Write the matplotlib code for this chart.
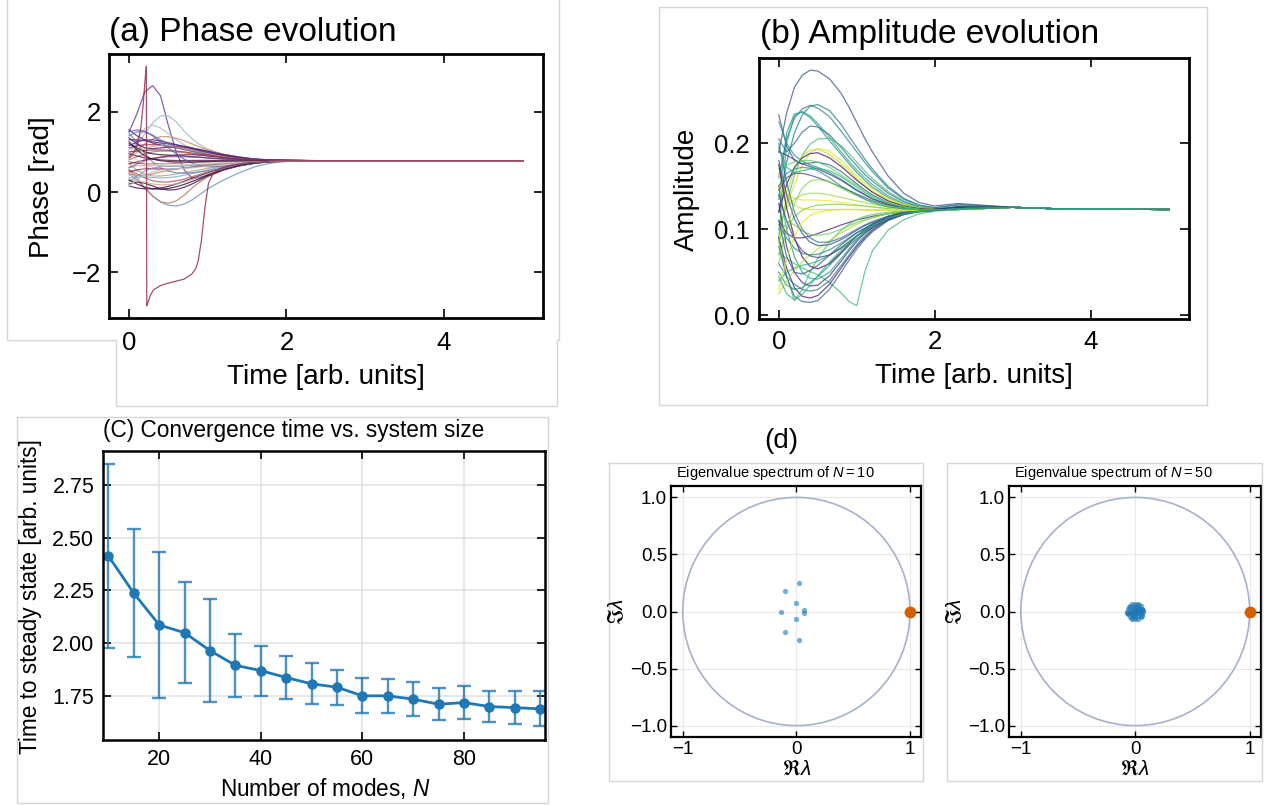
import numpy as np
import matplotlib
matplotlib.use("Agg")
import matplotlib.pyplot as plt
from matplotlib.patches import Circle
from matplotlib.lines import Line2D

plt.rcParams['font.family'] = ['Liberation Sans', 'DejaVu Sans']
plt.rcParams['mathtext.fontset'] = 'custom'
plt.rcParams['mathtext.rm'] = 'Liberation Sans'
plt.rcParams['mathtext.it'] = 'Liberation Sans:italic'
plt.rcParams['mathtext.bf'] = 'Liberation Sans:bold'
plt.rcParams['mathtext.fallback'] = 'stixsans'

# ---------------- data: (a) phase evolution ----------------
PHASE_T = [0.0, 0.1, 0.2, 0.3, 0.4, 0.5, 0.6, 0.7, 0.8, 0.9, 1.0, 1.2, 1.4, 1.6, 1.8, 2.0]
PHASE_TAIL_T = [2.5, 5.0]
PHASE_TAIL = [0.78, 0.78]
PHASE_CURVES = [
    [1.50, 1.95, 2.50, 2.65, 2.40, 1.65, 1.00, 0.55, 0.35, 0.36, 0.43, 0.57, 0.66, 0.72, 0.76, 0.775],
    [1.05, 1.20, 1.45, 1.72, 1.90, 1.90, 1.75, 1.52, 1.33, 1.18, 1.07, 0.93, 0.85, 0.81, 0.79, 0.785],
    [0.90, 1.30, 1.58, 1.67, 1.60, 1.45, 1.30, 1.18, 1.08, 1.00, 0.95, 0.87, 0.82, 0.80, 0.79, 0.785],
    [0.45, 0.30, 0.10, -0.10, -0.25, -0.33, -0.35, -0.30, -0.20, -0.06, 0.08, 0.30, 0.48, 0.63, 0.72, 0.76],
    [0.55, 0.35, 0.10, -0.10, -0.24, -0.28, -0.22, -0.08, 0.10, 0.25, 0.38, 0.55, 0.66, 0.72, 0.76, 0.775],
    [0.15, 0.10, 0.08, 0.08, 0.10, 0.14, 0.20, 0.27, 0.34, 0.41, 0.48, 0.60, 0.68, 0.73, 0.76, 0.775],
    [0.20, 0.25, 0.22, 0.15, 0.08, 0.05, 0.06, 0.12, 0.20, 0.30, 0.40, 0.55, 0.65, 0.72, 0.76, 0.775],
    [0.30, 0.28, 0.24, 0.20, 0.18, 0.18, 0.20, 0.25, 0.31, 0.38, 0.45, 0.57, 0.66, 0.72, 0.75, 0.77],
    [0.55, 0.45, 0.35, 0.28, 0.25, 0.25, 0.28, 0.32, 0.38, 0.44, 0.50, 0.60, 0.68, 0.73, 0.76, 0.775],
    [0.35, 0.38, 0.38, 0.36, 0.35, 0.36, 0.38, 0.42, 0.46, 0.50, 0.55, 0.63, 0.69, 0.73, 0.76, 0.775],
    [0.70, 0.55, 0.45, 0.40, 0.40, 0.42, 0.45, 0.48, 0.52, 0.55, 0.59, 0.65, 0.70, 0.74, 0.76, 0.775],
    [1.45, 1.25, 0.95, 0.75, 0.60, 0.52, 0.48, 0.47, 0.48, 0.50, 0.53, 0.60, 0.67, 0.72, 0.75, 0.77],
    [0.50, 0.55, 0.58, 0.58, 0.57, 0.57, 0.58, 0.60, 0.62, 0.64, 0.66, 0.70, 0.73, 0.755, 0.77, 0.778],
    [0.62, 0.65, 0.66, 0.66, 0.66, 0.66, 0.665, 0.67, 0.68, 0.69, 0.70, 0.72, 0.745, 0.76, 0.772, 0.778],
    [1.30, 1.30, 1.28, 1.25, 1.22, 1.20, 1.17, 1.14, 1.10, 1.06, 1.02, 0.94, 0.87, 0.82, 0.80, 0.79],
    [0.90, 1.05, 1.20, 1.32, 1.38, 1.38, 1.34, 1.28, 1.20, 1.12, 1.05, 0.94, 0.87, 0.82, 0.80, 0.79],
    [1.10, 1.15, 1.18, 1.18, 1.17, 1.15, 1.12, 1.09, 1.05, 1.01, 0.97, 0.90, 0.85, 0.81, 0.79, 0.785],
    [1.55, 1.40, 1.30, 1.22, 1.17, 1.13, 1.10, 1.06, 1.02, 0.98, 0.95, 0.88, 0.84, 0.81, 0.79, 0.785],
    [1.40, 1.50, 1.50, 1.42, 1.30, 1.20, 1.12, 1.06, 1.01, 0.97, 0.93, 0.87, 0.83, 0.81, 0.79, 0.785],
    [1.00, 1.02, 1.04, 1.05, 1.05, 1.04, 1.02, 1.00, 0.97, 0.94, 0.92, 0.87, 0.83, 0.80, 0.79, 0.785],
    [0.80, 0.88, 0.95, 1.00, 1.02, 1.02, 1.00, 0.98, 0.95, 0.92, 0.90, 0.86, 0.82, 0.80, 0.79, 0.785],
    [1.20, 1.10, 1.00, 0.95, 0.93, 0.92, 0.91, 0.90, 0.88, 0.87, 0.85, 0.83, 0.81, 0.80, 0.79, 0.785],
    [0.60, 0.70, 0.78, 0.83, 0.86, 0.88, 0.88, 0.88, 0.87, 0.86, 0.85, 0.82, 0.80, 0.79, 0.785, 0.78],
    [0.95, 0.90, 0.85, 0.82, 0.80, 0.79, 0.785, 0.785, 0.786, 0.787, 0.788, 0.787, 0.785, 0.783, 0.781, 0.78],
    [0.75, 0.72, 0.70, 0.70, 0.70, 0.71, 0.72, 0.73, 0.74, 0.75, 0.755, 0.765, 0.772, 0.776, 0.778, 0.78],
    [0.40, 0.50, 0.60, 0.66, 0.70, 0.72, 0.73, 0.74, 0.745, 0.75, 0.755, 0.763, 0.77, 0.775, 0.778, 0.78],
    [1.35, 1.20, 1.10, 1.08, 1.10, 1.12, 1.13, 1.12, 1.09, 1.05, 1.01, 0.93, 0.87, 0.82, 0.80, 0.79],
    [0.25, 0.40, 0.52, 0.60, 0.63, 0.64, 0.64, 0.65, 0.66, 0.67, 0.69, 0.72, 0.75, 0.765, 0.775, 0.78],
    [0.85, 0.98, 1.08, 1.14, 1.16, 1.15, 1.12, 1.08, 1.04, 1.00, 0.96, 0.89, 0.84, 0.81, 0.79, 0.785],
    [1.50, 1.55, 1.52, 1.40, 1.25, 1.10, 0.95, 0.82, 0.72, 0.66, 0.63, 0.64, 0.69, 0.73, 0.76, 0.775],
    [0.30, 0.20, 0.12, 0.08, 0.07, 0.09, 0.13, 0.19, 0.26, 0.34, 0.42, 0.56, 0.66, 0.72, 0.755, 0.77],
    [0.70, 0.75, 0.80, 0.84, 0.87, 0.90, 0.92, 0.93, 0.93, 0.92, 0.90, 0.86, 0.82, 0.80, 0.79, 0.785],
    [1.15, 1.25, 1.30, 1.30, 1.27, 1.23, 1.18, 1.13, 1.08, 1.03, 0.99, 0.91, 0.85, 0.815, 0.795, 0.787],
    [0.45, 0.42, 0.42, 0.45, 0.50, 0.54, 0.57, 0.60, 0.62, 0.64, 0.66, 0.70, 0.73, 0.755, 0.77, 0.775],
    [0.90, 0.80, 0.72, 0.68, 0.66, 0.66, 0.67, 0.68, 0.69, 0.70, 0.71, 0.73, 0.75, 0.765, 0.775, 0.78],
    [1.25, 1.05, 0.90, 0.82, 0.78, 0.76, 0.75, 0.75, 0.75, 0.755, 0.76, 0.77, 0.775, 0.778, 0.78, 0.78],
    [0.15, 0.30, 0.42, 0.50, 0.55, 0.57, 0.58, 0.59, 0.60, 0.62, 0.64, 0.68, 0.72, 0.745, 0.765, 0.775],
]
# the one mode whose phase wraps through +pi
PHASE_WRAP_T = [0.0, 0.05, 0.1, 0.15, 0.18, 0.21, 0.22, 0.225, 0.24, 0.27, 0.31, 0.4, 0.5, 0.6, 0.7,
                0.8, 0.85, 0.88, 0.92, 0.965, 1.01, 1.07, 1.15, 1.3, 1.5, 1.8, 2.0, 2.5, 5.0]
PHASE_WRAP = [0.85, 0.95, 1.15, 1.6, 2.2, 2.95, 3.14, -2.84, -2.75, -2.58, -2.44, -2.33, -2.27, -2.22, -2.17,
              -2.04, -1.9, -1.7, -1.2, -0.37, 0.22, 0.47, 0.58, 0.67, 0.73, 0.77, 0.78, 0.78, 0.78]

# ---------------- data: (b) amplitude evolution ----------------
AMP_T = [0.0, 0.1, 0.2, 0.3, 0.4, 0.5, 0.65, 0.8, 0.9, 1.0, 1.1, 1.2, 1.4, 1.6, 1.8, 2.0, 2.3]
AMP_TAIL_T = [3.0, 3.5, 4.0, 5.0]
AMP_TAIL = [0.1255, 0.124, 0.1235, 0.123]
AMP_CURVES = [
    [0.190, 0.235, 0.265, 0.279, 0.285, 0.284, 0.275, 0.258, 0.242, 0.224, 0.206, 0.190, 0.162, 0.142, 0.131, 0.127, 0.130],
    [0.120, 0.178, 0.212, 0.233, 0.243, 0.245, 0.238, 0.222, 0.208, 0.195, 0.182, 0.170, 0.150, 0.136, 0.128, 0.125, 0.129],
    [0.160, 0.205, 0.229, 0.240, 0.244, 0.241, 0.231, 0.214, 0.202, 0.190, 0.178, 0.167, 0.148, 0.135, 0.128, 0.125, 0.128],
    [0.090, 0.200, 0.232, 0.237, 0.232, 0.223, 0.207, 0.190, 0.179, 0.169, 0.160, 0.152, 0.139, 0.130, 0.125, 0.123, 0.126],
    [0.135, 0.212, 0.234, 0.236, 0.230, 0.220, 0.203, 0.187, 0.176, 0.166, 0.157, 0.149, 0.137, 0.129, 0.125, 0.123, 0.125],
    [0.205, 0.190, 0.200, 0.213, 0.220, 0.219, 0.210, 0.195, 0.184, 0.174, 0.164, 0.156, 0.142, 0.132, 0.126, 0.124, 0.126],
    [0.100, 0.130, 0.163, 0.186, 0.199, 0.205, 0.206, 0.197, 0.188, 0.178, 0.168, 0.159, 0.144, 0.133, 0.127, 0.124, 0.126],
    [0.152, 0.128, 0.152, 0.175, 0.189, 0.194, 0.191, 0.180, 0.171, 0.162, 0.154, 0.147, 0.136, 0.129, 0.125, 0.123, 0.124],
    [0.080, 0.142, 0.170, 0.185, 0.192, 0.193, 0.187, 0.176, 0.168, 0.159, 0.151, 0.144, 0.134, 0.128, 0.124, 0.123, 0.124],
    [0.120, 0.152, 0.172, 0.183, 0.188, 0.189, 0.183, 0.173, 0.165, 0.157, 0.150, 0.143, 0.133, 0.127, 0.124, 0.123, 0.125],
    [0.233, 0.197, 0.180, 0.176, 0.177, 0.178, 0.175, 0.167, 0.160, 0.153, 0.146, 0.140, 0.131, 0.126, 0.123, 0.122, 0.124],
    [0.225, 0.200, 0.186, 0.179, 0.175, 0.172, 0.166, 0.158, 0.152, 0.146, 0.141, 0.136, 0.129, 0.125, 0.123, 0.122, 0.124],
    [0.190, 0.186, 0.181, 0.176, 0.173, 0.170, 0.164, 0.157, 0.151, 0.145, 0.140, 0.135, 0.129, 0.125, 0.123, 0.122, 0.124],
    [0.195, 0.172, 0.166, 0.168, 0.170, 0.171, 0.168, 0.161, 0.155, 0.149, 0.143, 0.138, 0.130, 0.126, 0.123, 0.122, 0.124],
    [0.170, 0.175, 0.178, 0.180, 0.180, 0.178, 0.172, 0.163, 0.157, 0.151, 0.145, 0.139, 0.131, 0.126, 0.123, 0.122, 0.124],
    [0.145, 0.160, 0.165, 0.165, 0.163, 0.160, 0.155, 0.149, 0.145, 0.141, 0.137, 0.133, 0.128, 0.124, 0.123, 0.122, 0.123],
    [0.152, 0.141, 0.136, 0.134, 0.134, 0.134, 0.133, 0.131, 0.130, 0.128, 0.127, 0.126, 0.124, 0.123, 0.122, 0.122, 0.123],
    [0.165, 0.140, 0.128, 0.124, 0.123, 0.123, 0.123, 0.123, 0.123, 0.123, 0.122, 0.122, 0.122, 0.122, 0.122, 0.122, 0.123],
    [0.100, 0.125, 0.135, 0.140, 0.142, 0.142, 0.140, 0.137, 0.135, 0.133, 0.131, 0.129, 0.126, 0.124, 0.123, 0.122, 0.123],
    [0.070, 0.100, 0.115, 0.122, 0.126, 0.128, 0.129, 0.129, 0.128, 0.128, 0.127, 0.126, 0.124, 0.123, 0.122, 0.122, 0.123],
    [0.072, 0.066, 0.060, 0.055, 0.051, 0.047, 0.038, 0.026, 0.016, 0.011, 0.050, 0.075, 0.099, 0.111, 0.118, 0.121, 0.123],
    [0.110, 0.095, 0.090, 0.090, 0.092, 0.095, 0.100, 0.105, 0.108, 0.111, 0.113, 0.115, 0.118, 0.120, 0.121, 0.122, 0.123],
    [0.050, 0.035, 0.030, 0.032, 0.038, 0.045, 0.058, 0.072, 0.081, 0.089, 0.096, 0.102, 0.111, 0.117, 0.120, 0.122, 0.124],
    [0.090, 0.045, 0.017, 0.030, 0.050, 0.066, 0.085, 0.099, 0.106, 0.111, 0.115, 0.117, 0.120, 0.121, 0.122, 0.122, 0.123],
    [0.080, 0.045, 0.022, 0.016, 0.015, 0.017, 0.030, 0.050, 0.064, 0.077, 0.088, 0.097, 0.110, 0.117, 0.121, 0.123, 0.126],
    [0.090, 0.055, 0.032, 0.022, 0.020, 0.023, 0.036, 0.055, 0.068, 0.080, 0.090, 0.099, 0.111, 0.118, 0.121, 0.123, 0.126],
    [0.060, 0.045, 0.036, 0.030, 0.028, 0.030, 0.040, 0.058, 0.070, 0.082, 0.092, 0.100, 0.112, 0.118, 0.121, 0.123, 0.125],
    [0.130, 0.080, 0.050, 0.038, 0.034, 0.035, 0.046, 0.063, 0.075, 0.086, 0.095, 0.102, 0.113, 0.119, 0.122, 0.123, 0.125],
    [0.150, 0.100, 0.068, 0.050, 0.043, 0.042, 0.050, 0.066, 0.077, 0.088, 0.097, 0.104, 0.114, 0.119, 0.122, 0.123, 0.125],
    [0.175, 0.125, 0.090, 0.068, 0.057, 0.054, 0.060, 0.073, 0.083, 0.092, 0.100, 0.106, 0.115, 0.120, 0.122, 0.123, 0.125],
    [0.040, 0.050, 0.055, 0.058, 0.060, 0.063, 0.070, 0.079, 0.086, 0.093, 0.099, 0.105, 0.114, 0.119, 0.121, 0.122, 0.124],
    [0.025, 0.040, 0.052, 0.062, 0.070, 0.077, 0.087, 0.096, 0.101, 0.106, 0.110, 0.113, 0.118, 0.121, 0.122, 0.122, 0.123],
    [0.140, 0.110, 0.088, 0.075, 0.069, 0.067, 0.070, 0.078, 0.085, 0.092, 0.098, 0.104, 0.113, 0.118, 0.121, 0.122, 0.124],
    [0.105, 0.090, 0.078, 0.072, 0.070, 0.071, 0.076, 0.084, 0.090, 0.096, 0.101, 0.106, 0.114, 0.119, 0.121, 0.122, 0.124],
    [0.085, 0.110, 0.105, 0.098, 0.094, 0.093, 0.095, 0.100, 0.104, 0.108, 0.111, 0.114, 0.118, 0.121, 0.122, 0.122, 0.123],
    [0.180, 0.140, 0.112, 0.095, 0.085, 0.081, 0.082, 0.088, 0.093, 0.099, 0.104, 0.108, 0.115, 0.119, 0.121, 0.122, 0.124],
    [0.200, 0.155, 0.120, 0.100, 0.090, 0.085, 0.085, 0.090, 0.095, 0.100, 0.105, 0.109, 0.115, 0.119, 0.121, 0.122, 0.124],
    [0.030, 0.065, 0.092, 0.108, 0.116, 0.120, 0.122, 0.123, 0.123, 0.123, 0.123, 0.123, 0.123, 0.122, 0.122, 0.122, 0.123],
    [0.060, 0.100, 0.130, 0.148, 0.156, 0.158, 0.155, 0.148, 0.143, 0.139, 0.135, 0.132, 0.127, 0.124, 0.123, 0.122, 0.123],
    [0.110, 0.068, 0.050, 0.048, 0.052, 0.058, 0.070, 0.082, 0.089, 0.096, 0.101, 0.106, 0.114, 0.119, 0.121, 0.122, 0.124],
    [0.045, 0.025, 0.018, 0.024, 0.035, 0.046, 0.062, 0.076, 0.085, 0.092, 0.099, 0.104, 0.113, 0.118, 0.121, 0.122, 0.124],
    [0.150, 0.165, 0.170, 0.172, 0.171, 0.168, 0.160, 0.150, 0.145, 0.140, 0.135, 0.131, 0.126, 0.124, 0.123, 0.122, 0.123],
]

# ---------------- data: (c) convergence time ----------------
MODES_N = [10, 15, 20, 25, 30, 35, 40, 45, 50, 55, 60, 65, 70, 75, 80, 85, 90, 95]
CONV_TIME = [2.414, 2.237, 2.086, 2.049, 1.964, 1.894, 1.869, 1.836, 1.806, 1.790, 1.749, 1.749,
             1.733, 1.709, 1.717, 1.698, 1.693, 1.687]
CONV_ERR = [0.437, 0.305, 0.345, 0.239, 0.243, 0.149, 0.119, 0.103, 0.098, 0.084, 0.084, 0.081,
            0.082, 0.077, 0.079, 0.075, 0.079, 0.083]

# ---------------- data: (d) eigenvalue spectra ----------------
EIG10_RE = [0.027, -0.098, 0.0, -0.136, 0.071, 0.071, 0.0, -0.098, 0.027]
EIG10_IM = [0.246, 0.181, 0.076, 0.0, 0.011, -0.011, -0.070, -0.181, -0.246]
EIG50_RE = [0.068, 0.063, 0.048, 0.026, 0.0, -0.026, -0.048, -0.063, -0.068, -0.063, -0.048, -0.026, 0.0, 0.026, 0.048, 0.063,
            0.045, 0.039, 0.022, 0.0, -0.022, -0.039, -0.045, -0.039, -0.022, 0.0, 0.022, 0.039,
            0.022, 0.016, 0.0, -0.016, -0.022, -0.016, 0.0, 0.016,
            0.008, -0.006, 0.055, -0.052, 0.031, -0.030, 0.012, -0.012, 0.058, -0.056, 0.004, 0.070, -0.070]
EIG50_IM = [0.0, 0.026, 0.048, 0.063, 0.068, 0.063, 0.048, 0.026, 0.0, -0.026, -0.048, -0.063, -0.068, -0.063, -0.048, -0.026,
            0.0, 0.022, 0.039, 0.045, 0.039, 0.022, 0.0, -0.022, -0.039, -0.045, -0.039, -0.022,
            0.0, 0.016, 0.022, 0.016, 0.0, -0.016, -0.022, -0.016,
            0.005, -0.004, 0.012, -0.014, 0.055, -0.055, 0.032, -0.032, -0.036, 0.036, 0.0, 0.012, -0.012]
LEADING_RE = [1.0]
LEADING_IM = [0.0]

# ---------------- styles ----------------
PHASE_CPOS = [0.35, 0.12, 0.10, 0.20, 0.80, 0.45, 0.55, 0.88, 0.75, 0.15, 0.85, 0.22, 0.62, 0.90, 0.60,
              0.83, 0.70, 0.40, 0.25, 0.65, 0.78, 0.50, 0.30, 0.58, 0.72, 0.92, 0.42, 0.18, 0.87, 0.28,
              0.48, 0.66, 0.38, 0.82, 0.95, 0.52, 0.08]
WRAP_CPOS = 0.68
AMP_CPOS = [0.25, 0.40, 0.45, 0.60, 0.50, 0.35, 0.70, 0.95, 0.90, 0.05, 0.30, 0.55, 0.15, 0.65, 0.75,
            0.20, 0.98, 0.92, 0.85, 0.80, 0.68, 0.10, 0.50, 0.72, 0.30, 0.08, 0.40, 0.12, 0.58, 0.02,
            0.62, 0.88, 0.18, 0.45, 0.78, 0.22, 0.38, 0.96, 0.82, 0.28, 0.64, 0.52]

W, H = 1270, 805
fig = plt.figure(figsize=(W / 100, H / 100), dpi=100)


def fx(x):
    return x / W


def fy(y):
    return 1 - y / H


def ax_px(x0, y0, x1, y1):
    return fig.add_axes([x0 / W, 1 - y1 / H, (x1 - x0) / W, (y1 - y0) / H])


def frame(points):
    fig.add_artist(Line2D([fx(p[0]) for p in points], [fy(p[1]) for p in points],
                          color='#d6d6d6', lw=1.0, transform=fig.transFigure))


def style(ax, fs, length, width, spine_w, xpad, ypad):
    ax.tick_params(direction='in', top=True, right=True, length=length, width=width,
                   labelsize=fs, color='black')
    ax.tick_params(axis='x', pad=xpad)
    ax.tick_params(axis='y', pad=ypad)
    for s in ax.spines.values():
        s.set_linewidth(spine_w)


# panel frames
frame([(7, 0), (7, 340), (116, 340), (116, 406), (557, 406), (557, 340), (559, 340), (559, 0)])
frame([(659, 7), (659, 405), (1207, 405), (1207, 7), (659, 7)])
frame([(17, 417), (17, 803), (548, 803), (548, 417), (17, 417)])
frame([(609, 463), (609, 781), (923, 781), (923, 463), (609, 463)])
frame([(947, 463), (947, 781), (1262, 781), (1262, 463), (947, 463)])

# ---------------- (a) ----------------
axA = ax_px(108.6, 54, 543, 318)
twi = plt.get_cmap('twilight')
for vals, c in zip(PHASE_CURVES, PHASE_CPOS):
    axA.plot(PHASE_T + PHASE_TAIL_T, vals + PHASE_TAIL, color=twi(c), lw=0.9, alpha=0.8)
axA.plot(PHASE_WRAP_T, PHASE_WRAP, color=twi(WRAP_CPOS), lw=0.9, alpha=0.85)
axA.set_xlim(-0.26, 5.26)
axA.set_ylim(-3.14, 3.44)
axA.set_xticks([0, 2, 4])
axA.set_yticks([-2, 0, 2])
style(axA, 18.5, 6.5, 1.2, 2.0, 9.0, 5.5)
fig.text(fx(108.6), fy(40.7), '(a) Phase evolution', fontsize=24, ha='left', va='baseline')
fig.text(fx(42), fy(187), 'Phase [rad]', fontsize=20, rotation=90, ha='center', va='center')
fig.text(fx(326), fy(376.5), 'Time [arb. units]', fontsize=20, ha='center', va='center')

# ---------------- (b) ----------------
axB = ax_px(758.5, 57.7, 1189.2, 319.3)
vir = plt.get_cmap('viridis')
for vals, c in zip(AMP_CURVES, AMP_CPOS):
    axB.plot(AMP_T + AMP_TAIL_T, vals + AMP_TAIL, color=vir(c), lw=0.9, alpha=0.75)
axB.set_xlim(-0.26, 5.26)
axB.set_ylim(-0.0047, 0.2995)
axB.set_xticks([0, 2, 4])
axB.set_yticks([0.0, 0.1, 0.2])
axB.set_yticklabels(['0.0', '0.1', '0.2'])
style(axB, 18.5, 6.5, 1.2, 2.0, 8.0, 6.5)
fig.text(fx(760.5), fy(43.5), '(b) Amplitude evolution', fontsize=24, ha='left', va='baseline')
fig.text(fx(687), fy(189), 'Amplitude', fontsize=20, rotation=90, ha='center', va='center')
fig.text(fx(974), fy(376), 'Time [arb. units]', fontsize=20, ha='center', va='center')

# ---------------- (c) ----------------
axC = ax_px(103.3, 451, 545.3, 740)
axC.grid(True, color='#e3e3e3', lw=1.2)
axC.set_axisbelow(True)
axC.errorbar(MODES_N, CONV_TIME, yerr=CONV_ERR, fmt='o-', color='#1f77b4',
             ecolor=(0.12, 0.47, 0.71, 0.8), elinewidth=1.7, capsize=5, capthick=1.7,
             markersize=6.5, lw=2.0)
axC.set_xlim(9, 96)
axC.set_ylim(1.539, 2.913)
axC.set_xticks([20, 40, 60, 80])
axC.set_yticks([1.75, 2.00, 2.25, 2.50, 2.75])
axC.set_yticklabels(['1.75', '2.00', '2.25', '2.50', '2.75'])
style(axC, 15.5, 6, 1.2, 1.8, 6.5, 6.5)
fig.text(fx(103.3), fy(436.7), '(C) Convergence time vs. system size', fontsize=16.3, ha='left', va='baseline')
fig.text(fx(30.5), fy(596.5), 'Time to steady state [arb. units]', fontsize=16.3, rotation=90,
         ha='center', va='center')
fig.text(fx(325), fy(788), 'Number of modes, $N$', fontsize=16.3, ha='center', va='center')

# ---------------- (d) ----------------
fig.text(fx(781.6), fy(448.3), '(d)', fontsize=20, ha='center', va='baseline')


def eig_panel(box, re, im, title, title_x, ylab_x, xlab_x):
    ax = ax_px(*box)
    ax.grid(True, color='#e8e8e8', lw=0.8)
    ax.set_axisbelow(True)
    ax.add_patch(Circle((0, 0), 1.0, fill=False, edgecolor='#a6b2ca', lw=1.2))
    ax.plot(re, im, 'o', color='#1f77b4', alpha=0.6, markersize=3.8, markeredgewidth=0)
    ax.plot(LEADING_RE, LEADING_IM, 'o', color='#d55e00', markersize=8.5, markeredgewidth=0)
    ax.set_xlim(-1.1, 1.1)
    ax.set_ylim(-1.1, 1.1)
    ax.set_xticks([-1, 0, 1])
    ax.set_yticks([-1.0, -0.5, 0.0, 0.5, 1.0])
    ax.set_yticklabels(['\u22121.0', '\u22120.5', '0.0', '0.5', '1.0'])
    style(ax, 13.5, 4, 1.0, 1.6, 3.0, 3.0)
    fig.text(fx(title_x), fy(477.3), title, fontsize=10.5, ha='center', va='baseline')
    fig.text(fx(ylab_x), fy(611), r'$\Im\lambda$', fontsize=15, rotation=90, ha='center', va='center')
    fig.text(fx(xlab_x), fy(769), r'$\Re\lambda$', fontsize=15, ha='center', va='center')
    return ax


eig_panel((671.4, 486, 921.4, 737), EIG10_RE, EIG10_IM, 'Eigenvalue spectrum of $N = 10$', 775.4, 617, 796.6)
eig_panel((1009.4, 486, 1261.1, 737), EIG50_RE, EIG50_IM, 'Eigenvalue spectrum of $N = 50$', 1113.6, 955, 1134.6)

fig.savefig('out.png', dpi=100)
